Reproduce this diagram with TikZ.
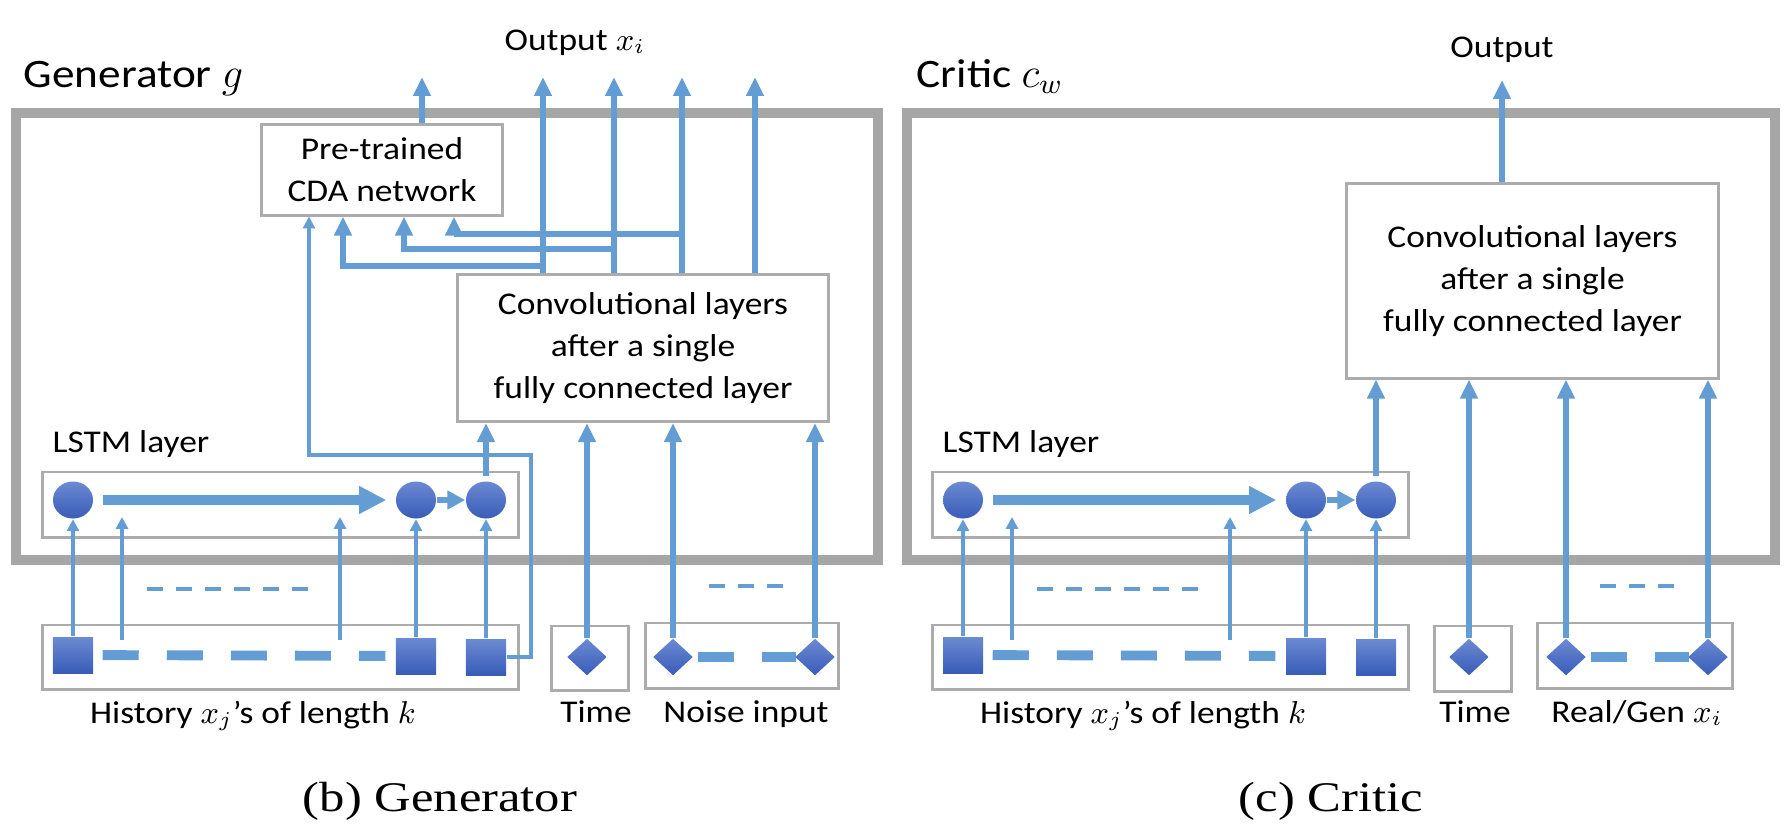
\documentclass[tikz,border=0pt]{standalone}
\usepackage{fontspec}
\setmainfont{Carlito}[FakeStretch=1.12]
\newfontfamily\capfont{Liberation Serif}[FakeStretch=1.2]
\usetikzlibrary{arrows.meta,shapes.geometric,positioning}
\definecolor{lineblue}{RGB}{100,156,212}
\definecolor{shapetop}{RGB}{108,138,210}
\definecolor{shapebot}{RGB}{56,92,184}
\definecolor{framegray}{RGB}{166,166,166}
\definecolor{boxgray}{RGB}{172,172,172}

\tikzset{
  outerframe/.style={draw=framegray, line width=2.6pt},
  box/.style={draw=boxgray, line width=0.85pt, inner sep=0pt, align=center, font=\fontsize{9}{11.95}\selectfont},
  txt/.style={font=\fontsize{9}{11.95}\selectfont, inner sep=0pt},
  heading/.style={font=\fontsize{11.5}{14}\selectfont, inner sep=0pt, anchor=base west},
  subcap/.style={font=\capfont\fontsize{12}{14}\selectfont, inner sep=0pt, anchor=base},
  lstmcell/.style={ellipse, top color=shapetop, bottom color=shapebot, minimum width=0.40cm, minimum height=0.37cm, inner sep=0pt},
  inputsq/.style={rectangle, top color=shapetop, bottom color=shapebot, minimum width=0.40cm, minimum height=0.36cm, inner sep=0pt},
  inputdia/.style={diamond, top color=shapetop, bottom color=shapebot, minimum width=0.40cm, minimum height=0.37cm, inner sep=0pt},
  thickarr/.style={draw=lineblue, line width=1.6pt, -{Triangle[length=5.4pt,width=4.8pt]}},
  thinarr/.style={draw=lineblue, line width=1.1pt, -{Triangle[length=3.4pt,width=3.4pt]}},
  bigarr/.style={draw=lineblue, line width=2.6pt, -{Triangle[length=7.7pt,width=7.4pt]}},
  midarr/.style={draw=lineblue, line width=1.7pt, -{Triangle[length=5.1pt,width=5.1pt]}},
  bigdash/.style={draw=lineblue, line width=2.8pt, dash pattern=on 0.36cm off 0.28cm},
  smalldash/.style={draw=lineblue, line width=1.3pt, dash pattern=on 0.16cm off 0.13cm},
}

\begin{document}
\begin{tikzpicture}[x=0.01cm, y=-0.01cm]
    \useasboundingbox (0,0) rectangle (1786,836);

    % Generator
    \node[heading] (gtitle) at (23,87) {Generator $g$};
    \draw[outerframe] (16,113) rectangle (878,560);
    \node[txt, anchor=base] (gout) at (575,50) {Output $x_i$};
    \node[box, minimum width=2.40cm, minimum height=0.90cm] (gcda) at (382,170) {Pre-trained\\CDA network};
    \node[box, minimum width=3.70cm, minimum height=1.47cm] (gconv) at (643,348) {Convolutional layers\\after a single\\fully connected layer};

    % outputs of the generator
    \coordinate (gcdaout) at (422,77);
    \draw[thickarr] (gcda.north -| gcdaout) -- (gcdaout);
    \foreach \x [count=\i] in {543,614,682,755} {
        \coordinate (go\i) at (\x,77);
        \draw[thickarr] (gconv.north -| go\i) -- (go\i);
    }

    % fed back into the CDA network
    \coordinate (gf1) at (343,266);
    \coordinate (gf2) at (404,249);
    \coordinate (gf3) at (454,234);
    \foreach \i in {1,2,3}
        \draw[thickarr] (go\i |- gf\i) -- (gf\i) -- (gf\i |- gcda.south);

    % Critic
    \node[heading] (ctitle) at (916,87) {Critic $c_w$};
    \draw[outerframe] (907,113) rectangle (1775,560);
    \node[txt, anchor=base] (cout) at (1502,57) {Output};
    \node[box, minimum width=3.71cm, minimum height=1.94cm] (cconv) at (1532.5,281) {Convolutional layers\\after a single\\fully connected layer};
    \coordinate (co) at (1502,80);
    \draw[thickarr] (cconv.north -| co) -- (co);

    % LSTM layer and history, same in both parts
    \foreach \p/\dx in {g/0, c/890} {
        \begin{scope}[shift={(\dx,0)}]
            \node[txt, anchor=base west] (\p lstmlbl) at (52,452) {LSTM layer};
            \node[box, minimum width=4.75cm, minimum height=0.65cm] (\p lstm) at (280.5,504.5) {};
            \node[lstmcell] (\p c1) at (73,500) {};
            \node[lstmcell] (\p c2) at (416,500) {};
            \node[lstmcell] (\p c3) at (486,500) {};
            \draw[bigarr, shorten <=0.09cm, shorten >=0.09cm] (\p c1) -- (\p c2);
            \draw[midarr] (\p c2) -- (\p c3);

            \node[box, minimum width=4.75cm, minimum height=0.64cm] (\p hist) at (280.5,657) {};
            \node[inputsq] (\p s1) at (73,655) {};
            \node[inputsq] (\p s2) at (416,656) {};
            \node[inputsq] (\p s3) at (486,657) {};
            \draw[bigdash, shorten <=0.09cm, shorten >=0.10cm] (\p s1) -- (\p s2);
            \node[txt, anchor=base] (\p histlbl) at (253,723) {History $x_j$'s of length $k$};

            \draw[thinarr] (\p s1) -- (\p c1);
            \draw[thinarr] (\p s2) -- (\p c2);
            \draw[thinarr] (\p s3) -- (\p c3);
            \coordinate (\p a1) at (122,640);
            \coordinate (\p a2) at (340,640);
            \draw[thinarr] (\p a1) -- (122,517);
            \draw[thinarr] (\p a2) -- (340,517);
            \draw[smalldash] (147,589) -- (310,589);

            \draw[thickarr, shorten <=0.05cm] (\p c3) -- (\p c3 |- \p conv.south);
        \end{scope}
    }

    % last history value also goes to the CDA network
    \coordinate (gbend) at (531,455);
    \coordinate (gcdain) at (309,455);
    \draw[thinarr] (gs3.east) -| (gbend) -- (gcdain) -- (gcdain |- gcda.south);

    % time and noise
    \node[box, minimum width=0.76cm, minimum height=0.64cm] (gtime) at (590,658) {};
    \node[inputdia] (gt) at (587,657) {};
    \node[txt, anchor=base] (gtimelbl) at (596,722) {Time};
    \node[box, minimum width=1.92cm, minimum height=0.65cm] (gnoise) at (742,655.5) {};
    \node[inputdia] (gn1) at (673,657) {};
    \node[inputdia] (gn2) at (815,657) {};
    \draw[bigdash, shorten <=0.04cm, shorten >=-0.02cm] (gn1) -- (gn2);
    \node[txt, anchor=base] (gnoiselbl) at (746,722) {Noise input};
    \draw[smalldash] (709,586) -- (783,586);
    \draw[thickarr] (gt) -- (gt |- gconv.south);
    \draw[thickarr] (gn1) -- (gn1 |- gconv.south);
    \draw[thickarr] (gn2) -- (gn2 |- gconv.south);

    \node[subcap] (gcap) at (440,811) {(b) Generator};

    % time and real or generated value
    \node[box, minimum width=0.77cm, minimum height=0.65cm] (ctime) at (1472.5,658.5) {};
    \node[inputdia] (ct) at (1469,657) {};
    \node[txt, anchor=base] (ctimelbl) at (1475,722) {Time};
    \node[box, minimum width=1.94cm, minimum height=0.65cm] (creal) at (1635,655.5) {};
    \node[inputdia] (cr1) at (1566,657) {};
    \node[inputdia] (cr2) at (1708,657) {};
    \draw[bigdash, shorten <=0.04cm, shorten >=-0.02cm] (cr1) -- (cr2);
    \node[txt, anchor=base] (creallbl) at (1637,722) {Real/Gen $x_i$};
    \draw[smalldash] (1600,586) -- (1674,586);
    \draw[thickarr] (ct) -- (ct |- cconv.south);
    \draw[thickarr] (cr1) -- (cr1 |- cconv.south);
    \draw[thickarr] (cr2) -- (cr2 |- cconv.south);

    \node[subcap] (ccap) at (1331,811) {(c) Critic};
\end{tikzpicture}
\end{document}
